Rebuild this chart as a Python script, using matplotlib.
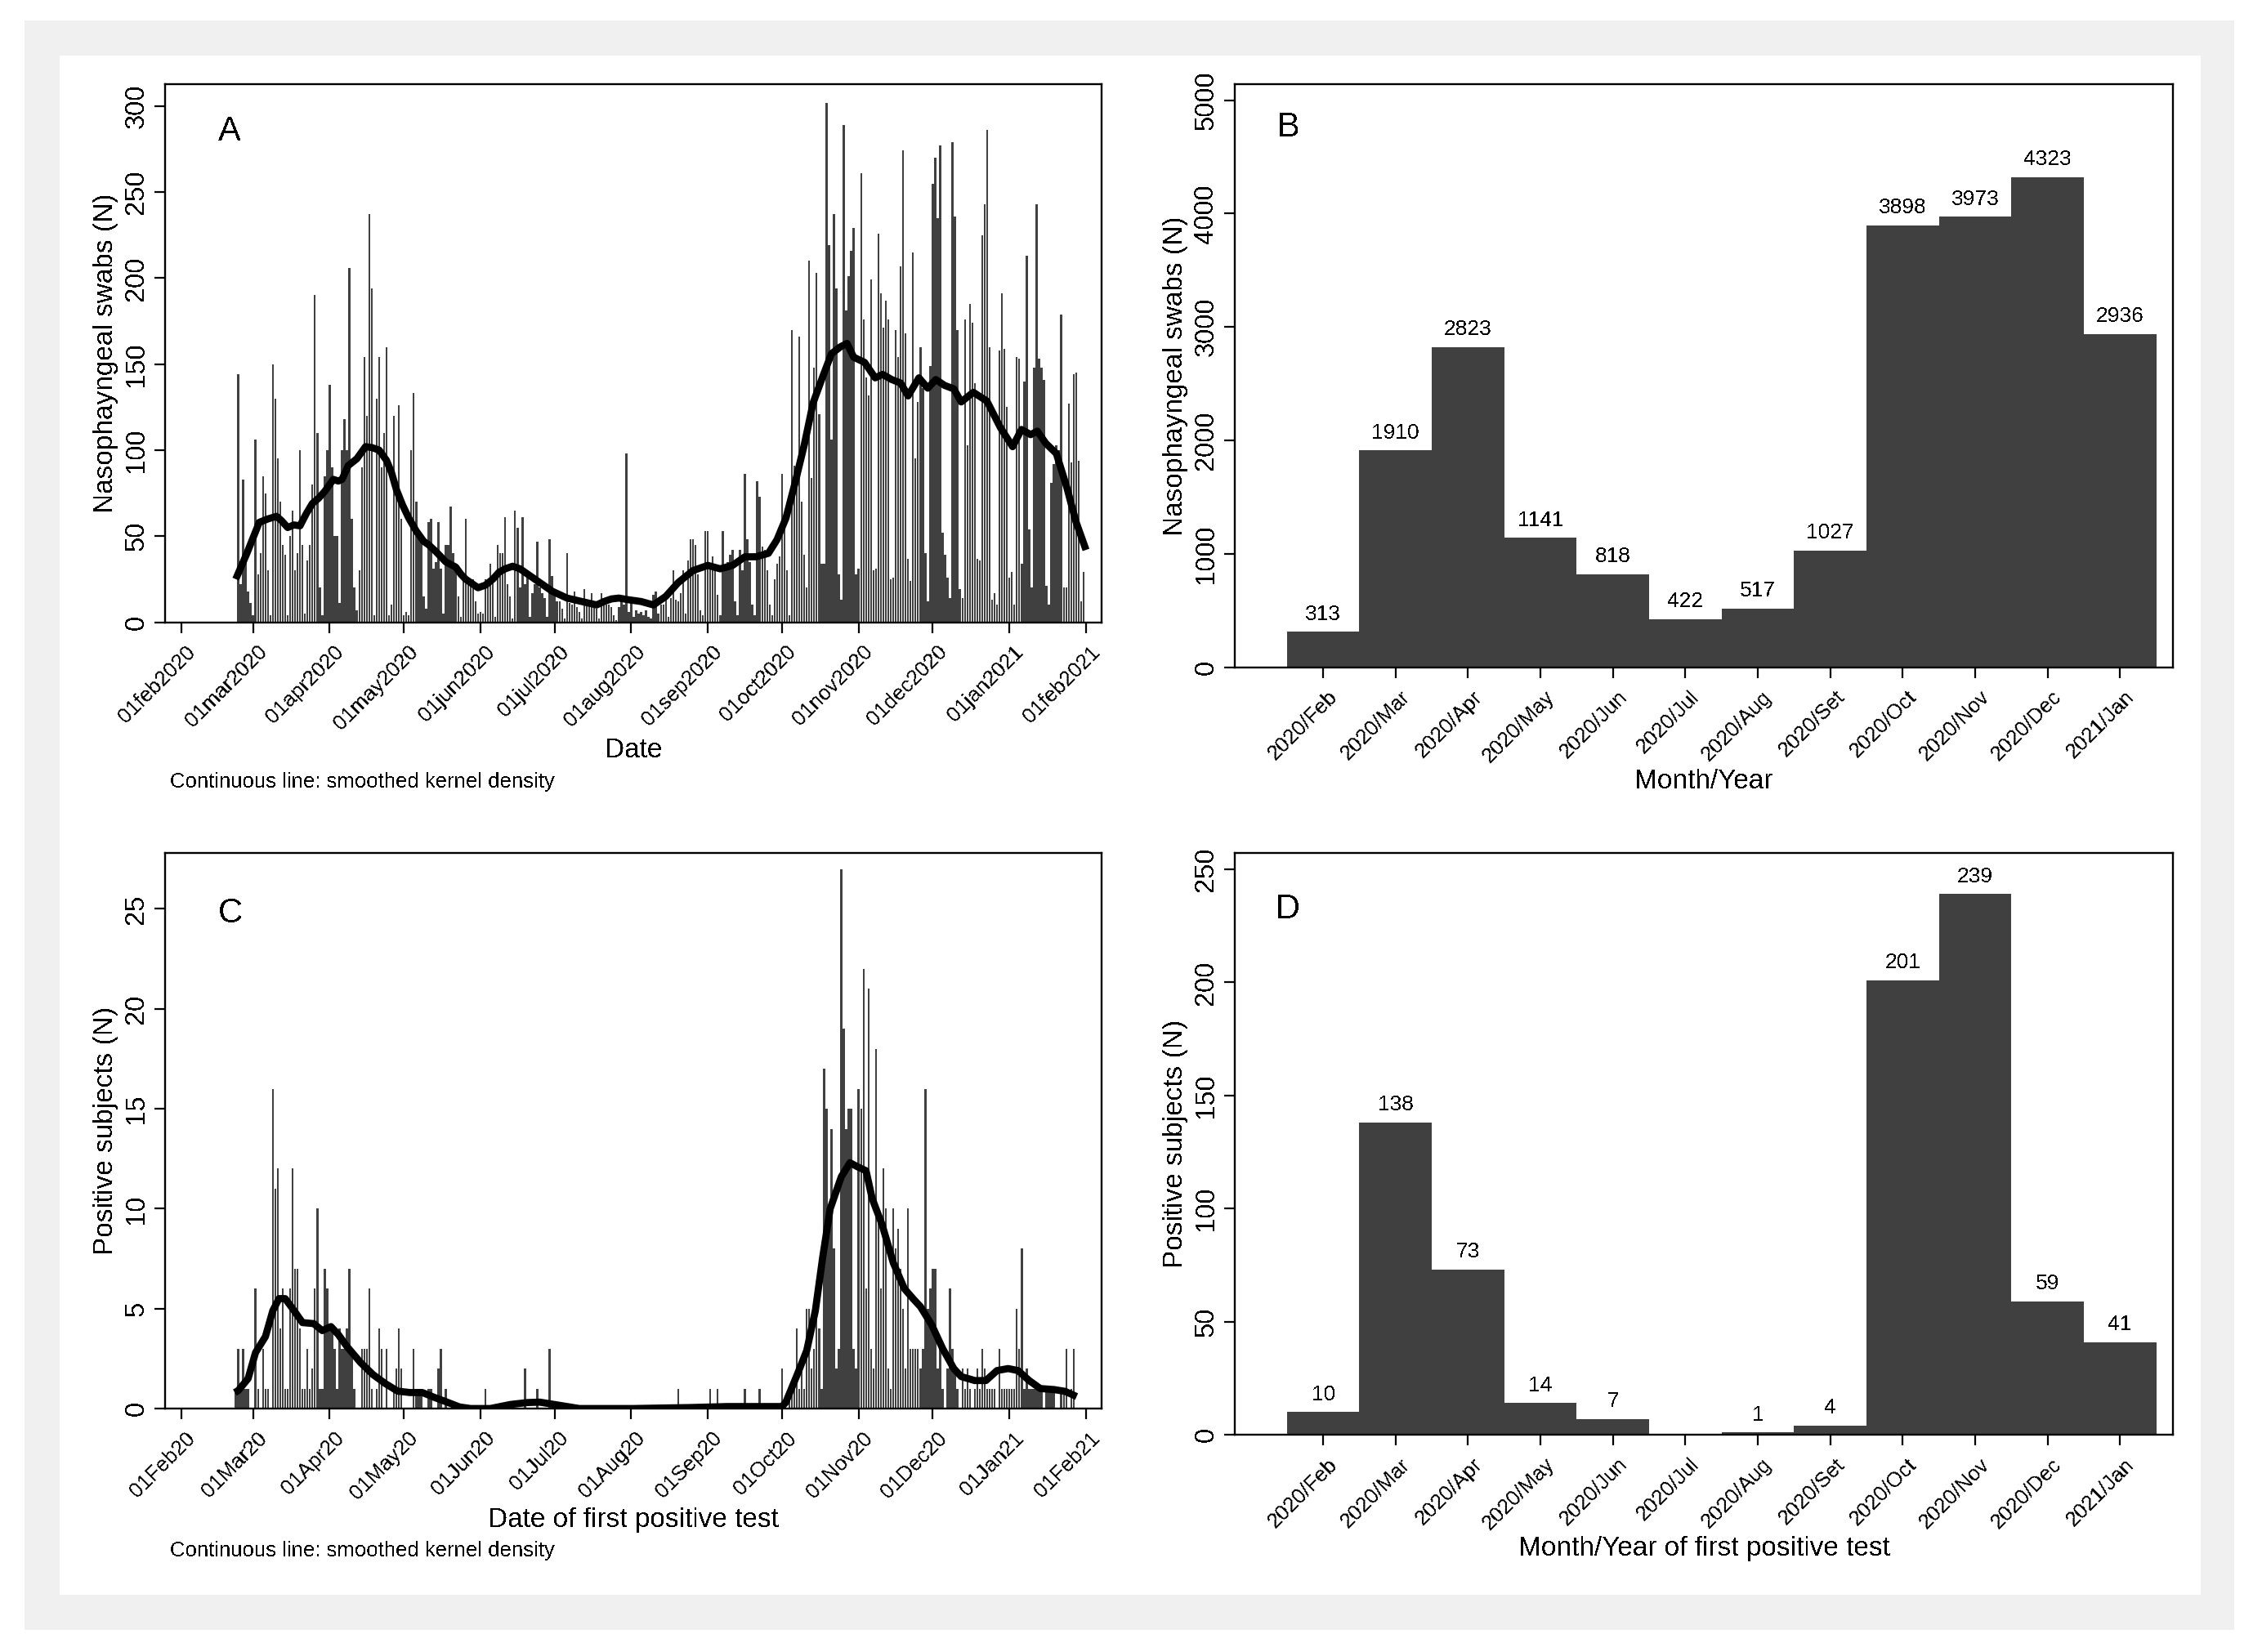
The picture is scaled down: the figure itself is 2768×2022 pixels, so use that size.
import matplotlib
matplotlib.use('Agg')
import matplotlib.pyplot as plt
import matplotlib.dates as mdates
from matplotlib.patches import Rectangle
from matplotlib.transforms import ScaledTranslation
import pandas as pd
from datetime import datetime

plt.rcParams['font.family'] = ['Liberation Sans', 'DejaVu Sans']
plt.rcParams['text.antialiased'] = False

# ---- panel A: daily nasopharyngeal swabs, 24feb2020 .. 31jan2021
swabs_feb = [144, 22, 83, 35, 18, 11]
swabs_mar = [4, 106, 28, 40, 85, 75, 30, 4, 150, 130, 95, 70, 45, 39, 4, 50, 65, 30, 40, 100, 45,
             5, 36, 45, 80, 190, 110, 20, 4, 85, 100]
swabs_apr = [138, 90, 50, 50, 11, 100, 118, 100, 206, 60, 20, 7, 30, 90, 154, 120, 237, 194, 4, 130,
             154, 90, 110, 160, 4, 10, 120, 80, 126, 60]
swabs_may = [4, 6, 4, 100, 133, 70, 50, 50, 15, 8, 58, 60, 31, 35, 58, 31, 5, 45, 45, 67, 40, 30, 15,
             3, 27, 60, 24, 25, 25, 12, 5]
swabs_jun = [6, 5, 25, 22, 34, 27, 3, 45, 40, 40, 61, 22, 15, 2, 65, 55, 20, 61, 22, 30, 3, 17, 22,
             47, 20, 17, 14, 3, 48, 27]
swabs_jul = [16, 12, 12, 8, 2, 40, 11, 10, 18, 9, 6, 2, 19, 12, 10, 17, 12, 8, 2, 17, 10, 10, 10, 9,
             4, 1, 9, 12, 10, 98, 6]
swabs_aug = [14, 3, 7, 5, 6, 4, 7, 3, 2, 16, 18, 5, 10, 10, 14, 3, 14, 30, 13, 12, 17, 30, 5, 36, 48,
             48, 45, 28, 7, 4, 53]
swabs_sep = [53, 34, 38, 30, 16, 4, 53, 30, 35, 39, 42, 12, 4, 42, 30, 86, 48, 35, 10, 4, 82, 73, 44,
             42, 30, 10, 4, 25, 34, 38]
swabs_oct = [86, 60, 30, 4, 170, 91, 85, 166, 70, 39, 20, 210, 84, 148, 203, 121, 34, 34, 302, 219,
             106, 237, 194, 28, 13, 289, 181, 201, 216, 229, 28]
swabs_nov = [31, 261, 176, 142, 132, 199, 30, 31, 226, 191, 171, 187, 176, 25, 26, 170, 154, 207,
             274, 168, 37, 24, 215, 95, 128, 160, 136, 40, 12, 149]
swabs_dec = [255, 270, 235, 277, 52, 39, 26, 14, 279, 236, 170, 19, 14, 176, 103, 185, 174, 139, 37,
             36, 225, 243, 286, 160, 13, 17, 10, 158, 191, 159, 125]
swabs_jan = [26, 29, 10, 154, 153, 34, 140, 213, 54, 20, 148, 243, 153, 148, 141, 21, 10, 81, 92,
             103, 100, 179, 20, 20, 127, 93, 144, 145, 94, 12, 29]

# smoothed curve of panel A (days since 01feb2020, value)
swab_smooth_day = [22, 26.5, 31.5, 35, 38.5, 40.5, 43, 45.5, 48, 50.5, 53, 55.5, 58, 61.5, 63.5, 65,
                   67.5, 71, 74.5, 77, 80, 83, 85, 87, 89.5, 92, 95, 98, 100, 103, 105, 107, 111,
                   113, 115, 118, 120, 123, 126, 128.5, 131, 134, 137, 141, 144, 147, 150, 153, 156,
                   159, 162, 165, 168, 171, 174, 177, 181, 186, 191, 196, 201, 207, 213, 218, 223,
                   228, 232.5, 237.5, 241, 244.6, 248.3, 252, 255.6, 259.3, 263, 266.6, 269.3, 272,
                   276.4, 280.7, 283.7, 287.4, 291, 294, 298.4, 302, 305.2, 308.8, 312.5, 315.5,
                   320.4, 325.9, 331.4, 336.3, 339.9, 343.6, 346.3, 349.7, 354, 358.3, 361.9, 366]
swab_smooth_val = [25, 40, 58, 60, 61.5, 59, 55, 56.5, 56, 63, 69, 72, 76, 83, 82, 83, 91, 95, 102,
                   101.5, 100, 94, 87, 77, 68, 60.5, 53, 47, 45, 41, 38, 35, 32, 28, 25, 22, 20,
                   21.5, 25, 29, 31, 32.5, 31, 27, 24, 21, 18, 16, 14, 13, 12, 11, 10, 12, 13.5, 14,
                   13, 12, 10, 15, 23, 30, 33, 31, 33, 38, 38, 40, 48, 60.5, 81, 103, 127.5, 142,
                   156, 160, 162, 154, 151, 142, 144, 141, 139, 131.5, 142, 136, 141, 137.6, 135.6,
                   128, 133.6, 128.5, 113, 102, 112, 109, 111, 104, 98, 78, 58.5, 42]

# ---- panel C: daily positive subjects, 23Feb20 .. 31Jan21
pos_feb = [1, 3, 1, 3, 1, 1, 0]
pos_mar = [0, 6, 1, 0, 3, 1, 1, 0, 16, 11, 12, 4, 6, 1, 1, 6, 12, 7, 7, 4, 1, 1, 3, 1, 2, 6, 10, 1,
           1, 7, 6]
pos_apr = [4, 4, 3, 1, 4, 3, 3, 4, 7, 3, 1, 0, 0, 3, 3, 3, 6, 1, 0, 1, 4, 3, 0, 3, 0, 0, 1, 2, 4, 2]
pos_may = [0, 0, 0, 0, 3, 1, 1, 1, 0, 0, 1, 1, 0, 0, 2, 3, 0, 1, 0, 0, 0, 0, 0, 0, 0, 0, 0, 0, 0,
           0, 0]
pos_jun = [0, 0, 1, 0, 0, 0, 0, 0, 0, 0, 0, 0, 0, 0, 0, 0, 0, 0, 2, 0, 0, 0, 0, 1, 0, 0, 0, 0, 3, 0]
pos_jul = [0, 0, 0, 0, 0, 0, 0, 0, 0, 0, 0, 0, 0, 0, 0, 0, 0, 0, 0, 0, 0, 0, 0, 0, 0, 0, 0, 0, 0,
           0, 0]
pos_aug = [0, 0, 0, 0, 0, 0, 0, 0, 0, 0, 0, 0, 0, 0, 0, 0, 0, 0, 0, 1, 0, 0, 0, 0, 0, 0, 0, 0, 0,
           0, 0]
pos_sep = [0, 1, 0, 0, 1, 0, 0, 0, 0, 0, 0, 0, 0, 0, 0, 1, 0, 0, 0, 0, 0, 1, 0, 0, 0, 0, 0, 0, 0, 0]
pos_oct = [2, 0, 0, 1, 1, 1, 4, 1, 2, 1, 5, 5, 2, 3, 5, 4, 1, 17, 15, 9, 14, 8, 2, 3, 27, 19, 14, 15,
           15, 3, 2]
pos_nov = [16, 15, 22, 6, 21, 3, 2, 18, 10, 6, 12, 10, 2, 1, 10, 8, 9, 7, 5, 2, 10, 3, 3, 3, 3, 2,
           3, 16, 5, 6]
pos_dec = [7, 7, 2, 3, 1, 0, 2, 6, 3, 2, 1, 0, 2, 1, 2, 1, 0, 1, 2, 1, 3, 2, 1, 1, 1, 1, 0, 3, 1, 1,
           1]
pos_jan = [1, 1, 1, 5, 3, 8, 1, 2, 1, 1, 1, 1, 1, 1, 0, 1, 1, 1, 1, 0, 0, 1, 1, 3, 0, 1, 3, 0, 0, 0,
           0]

pos_smooth_day = [21.6, 23, 27, 30, 34, 37, 39.5, 42, 45, 49, 53.5, 57, 60.5, 63.5, 67, 72.5, 77.5,
                  82.5, 87.5, 92.5, 97.5, 102.5, 107.5, 112.5, 117, 125, 133, 140, 145, 151, 161,
                  183, 206, 221, 238.5, 243, 244.5, 249.5, 253, 256.5, 259.5, 262.5, 267, 270.5,
                  273.5, 277, 279.5, 283.5, 288, 292.5, 296, 299, 303.5, 308, 312.5, 315.5, 321,
                  325.5, 330, 334.5, 338.5, 343, 347.5, 353, 357.5, 362.2]
pos_smooth_val = [0.8, 0.9, 1.5, 2.8, 3.6, 4.9, 5.5, 5.5, 5.0, 4.3, 4.25, 3.9, 4.1, 3.7, 3.1, 2.3,
                  1.7, 1.25, 0.87, 0.8, 0.8, 0.55, 0.32, 0.08, 0.0, 0.0, 0.2, 0.3, 0.32, 0.2, 0.0,
                  0.0, 0.05, 0.1, 0.1, 0.1, 0.3, 1.8, 2.9, 4.9, 7.6, 10, 11.6, 12.3, 12.1, 11.9,
                  10.5, 9.2, 7.3, 6.0, 5.5, 5.1, 4.2, 3.0, 2.0, 1.6, 1.4, 1.4, 1.9, 2.0, 1.9, 1.4,
                  1.0, 0.95, 0.86, 0.6]

# ---- panels B and D: monthly totals
months = ['2020/Feb', '2020/Mar', '2020/Apr', '2020/May', '2020/Jun', '2020/Jul', '2020/Aug',
          '2020/Set', '2020/Oct', '2020/Nov', '2020/Dec', '2021/Jan']
swabs_month = [313, 1910, 2823, 1141, 818, 422, 517, 1027, 3898, 3973, 4323, 2936]
pos_month = [10, 138, 73, 14, 7, 0, 1, 4, 201, 239, 59, 41]

tick_dates = pd.date_range('2020-02-01', '2021-02-01', freq='MS')
labels_a = [d.strftime('%d%b%Y').lower() for d in tick_dates]
labels_c = [d.strftime('%d%b%y') for d in tick_dates]

swabs = (swabs_feb + swabs_mar + swabs_apr + swabs_may + swabs_jun + swabs_jul + swabs_aug +
         swabs_sep + swabs_oct + swabs_nov + swabs_dec + swabs_jan)
positives = (pos_feb + pos_mar + pos_apr + pos_may + pos_jun + pos_jul + pos_aug + pos_sep +
             pos_oct + pos_nov + pos_dec + pos_jan)
swab_dates = mdates.date2num(pd.date_range('2020-02-24', periods=len(swabs)).to_pydatetime())
pos_dates = mdates.date2num(pd.date_range('2020-02-23', periods=len(positives)).to_pydatetime())
base = mdates.date2num(datetime(2020, 2, 1))

W, H = 2768, 2022
BAR = '#404040'
fig = plt.figure(figsize=(W / 100, H / 100), dpi=100)
fig.patches.append(Rectangle((30 / W, 1 - 1995 / H), 2704 / W, 1970 / H, transform=fig.transFigure,
                             facecolor='#f0f0f0', edgecolor='none', zorder=-10))
fig.patches.append(Rectangle((73 / W, 1 - 1952 / H), 2620 / W, 1884 / H, transform=fig.transFigure,
                             facecolor='white', edgecolor='none', zorder=-9))


def px_axes(x0, y0, x1, y1):
    return fig.add_axes([x0 / W, 1 - y1 / H, (x1 - x0) / W, (y1 - y0) / H])


def style(ax, yticks, xticks, xlabels):
    for s in ax.spines.values():
        s.set_linewidth(1.7)
    ax.set_yticks(yticks)
    ax.set_xticks(xticks)
    ax.set_xticklabels(xlabels, rotation=45, ha='right', va='top', rotation_mode='anchor')
    ax.tick_params(direction='out', length=9.5, width=1.6)
    ax.tick_params(axis='y', labelsize=23.5, pad=4.5)
    ax.tick_params(axis='x', labelsize=18.5, pad=8)
    plt.setp(ax.get_yticklabels(), rotation=90, va='center', ha='right')
    shift = ScaledTranslation(0.05, 0, fig.dpi_scale_trans)
    for lbl in ax.get_xticklabels():
        lbl.set_transform(lbl.get_transform() + shift)
    ax.yaxis.set_label_coords(-0.05, 0.5)


def daily_panel(ax, x, y, sx, sy, ymax, yticks, xlabels, ylabel, xlabel, xlab_y, letter, ly):
    ax.bar(x, y, width=0.8, color=BAR, linewidth=0, antialiased=False, zorder=2)
    ax.plot(base + pd.Series(sx), sy, color='black', lw=6.3, solid_capstyle='butt',
            solid_joinstyle='round', zorder=3)
    ax.set_xlim(base - 6.6, base + 372.3)
    ax.set_ylim(0, ymax)
    style(ax, yticks, mdates.date2num(tick_dates.to_pydatetime()), xlabels)
    ax.set_ylabel(ylabel, fontsize=24)
    ax.set_xlabel(xlabel, fontsize=24, va='center')
    ax.xaxis.set_label_coords(0.5, xlab_y)
    ax.text(0.0567, ly, letter, transform=ax.transAxes, fontsize=30, ha='left', va='baseline')


def month_panel(ax, y, ymax, yticks, ylabel, xlabel, xlab_y, letter, lx, ly):
    pos = list(range(1, len(months) + 1))
    ax.bar(pos, y, width=1.0, color=BAR, linewidth=0, zorder=2)
    for p, v in zip(pos, y):
        if v > 0:
            ax.annotate(str(v), (p, v), xytext=(0, 10.5), textcoords='offset points',
                        ha='center', va='baseline', fontsize=19)
    ax.set_xlim(-0.22, 12.73)
    ax.set_ylim(0, ymax)
    style(ax, yticks, pos, months)
    ax.set_ylabel(ylabel, fontsize=24)
    ax.set_xlabel(xlabel, fontsize=24, va='center')
    ax.xaxis.set_label_coords(0.5, xlab_y)
    ax.text(lx, ly, letter, transform=ax.transAxes, fontsize=30, ha='left', va='baseline')


ax_a = px_axes(202, 103, 1348, 761.5)
daily_panel(ax_a, swab_dates, swabs, swab_smooth_day, swab_smooth_val, 312.7,
            range(0, 301, 50), labels_a, 'Nasophayngeal swabs (N)', 'Date', -0.238, 'A', 0.8952)

ax_b = px_axes(1511, 103, 2659, 816.6)
month_panel(ax_b, swabs_month, 5141, range(0, 5001, 1000), 'Nasophayngeal swabs (N)',
            'Month/Year', -0.1955, 'B', 0.0453, 0.911)

ax_c = px_axes(202, 1044, 1348, 1724)
daily_panel(ax_c, pos_dates, positives, pos_smooth_day, pos_smooth_val, 27.8,
            range(0, 26, 5), labels_c, 'Positive subjects (N)', 'Date of first positive test',
            -0.2, 'C', 0.875)

ax_d = px_axes(1511, 1044, 2659, 1756)
month_panel(ax_d, pos_month, 257.2, range(0, 251, 50), 'Positive subjects (N)',
            'Month/Year of first positive test', -0.1966, 'D', 0.0436, 0.8876)

note = 'Continuous line: smoothed kernel density'
fig.text(208 / W, 1 - 957 / H, note, fontsize=18.5, ha='left', va='center')
fig.text(208 / W, 1 - 1898 / H, note, fontsize=18.5, ha='left', va='center')

fig.savefig('out.png', dpi=100, facecolor='white')
